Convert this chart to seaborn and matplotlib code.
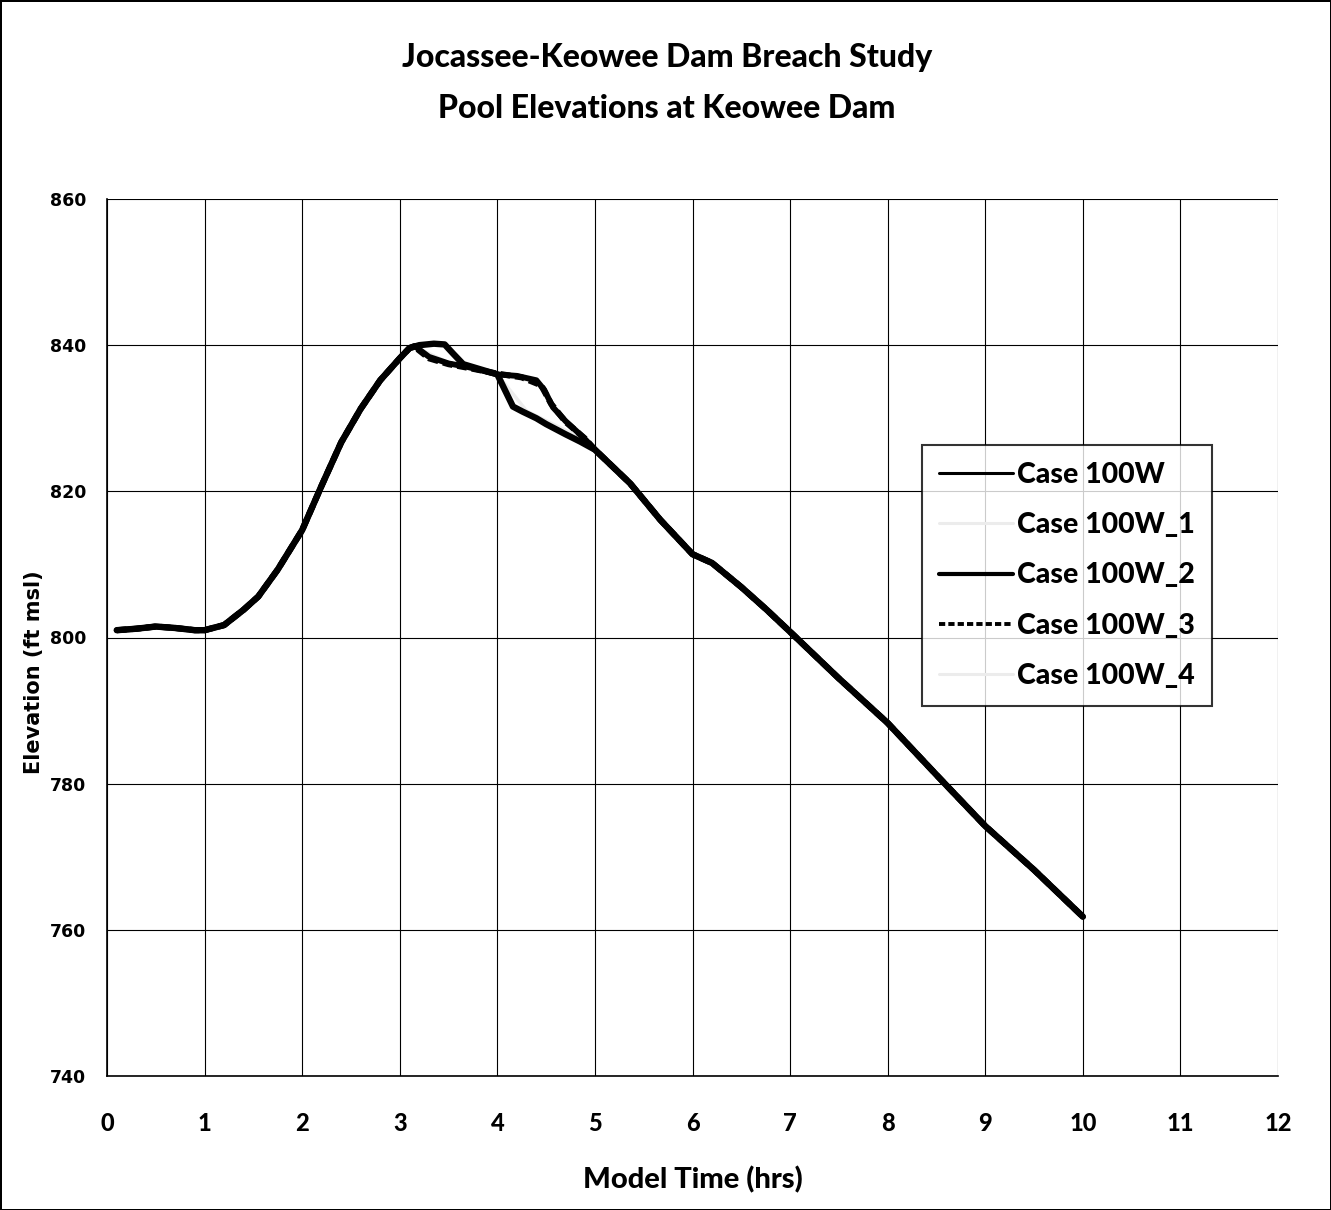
import numpy as np
import pandas as pd
import matplotlib
matplotlib.use("Agg")
import matplotlib.pyplot as plt
import seaborn as sns

# DATA

# rising limb shared by all cases
rise_t = [0.1, 0.3, 0.5, 0.7, 0.9, 1.0, 1.2, 1.4, 1.55, 1.75, 2.0, 2.2, 2.4, 2.6, 2.8, 3.0, 3.1]
rise_e = [801.0, 801.2, 801.5, 801.3, 801.0, 801.0, 801.7, 803.8, 805.6, 809.3, 814.7,
          820.8, 826.7, 831.3, 835.2, 838.2, 839.6]

# falling limb shared by all cases
fall_t = [5.0, 5.36, 5.67, 6.0, 6.2, 6.5, 6.76, 7.03, 7.5, 8.0, 8.5, 9.0, 9.5, 10.0]
fall_e = [825.7, 821.1, 816.1, 811.4, 810.2, 806.9, 803.8, 800.4, 794.4, 788.3,
          781.2, 774.2, 768.2, 761.8]

# peak section of each case
c100_t = [3.15, 3.3, 3.5, 3.7, 4.0, 4.2, 4.4, 4.48, 4.57, 4.7, 4.88]
c100_e = [839.9, 838.4, 837.5, 837.0, 836.0, 835.8, 835.2, 833.9, 831.5, 829.6, 827.4]

c1_t = [3.15, 3.5, 4.0, 4.3, 4.6, 4.9]
c1_e = [839.8, 837.6, 836.0, 831.0, 829.0, 827.0]

c2_t = [3.2, 3.35, 3.46, 3.55, 3.65, 3.8, 4.0, 4.08, 4.16, 4.26, 4.4, 4.5, 4.7, 4.85]
c2_e = [840.0, 840.2, 840.1, 838.8, 837.4, 836.8, 836.0, 833.8, 831.6, 830.9,
        830.0, 829.2, 827.8, 826.8]

c3_t = [3.15, 3.3, 3.5, 3.7, 4.0, 4.25, 4.45, 4.55, 4.7, 4.9]
c3_e = [839.8, 838.2, 837.4, 836.9, 836.1, 835.6, 834.5, 832.0, 829.5, 827.2]

c4_t = [3.15, 3.5, 4.0, 4.4, 4.6, 4.9]
c4_e = [839.7, 837.5, 836.0, 835.0, 831.0, 827.2]

case_names = ["Case 100W", "Case 100W_1", "Case 100W_2", "Case 100W_3", "Case 100W_4"]
peak_t = [c100_t, c1_t, c2_t, c3_t, c4_t]
peak_e = [c100_e, c1_e, c2_e, c3_e, c4_e]

x_ticks = list(range(0, 13))
y_ticks = [740, 760, 780, 800, 820, 840, 860]

# STYLE

sns.set_style("white")
plt.rcParams.update({"text.color": "black", "axes.labelcolor": "black",
                     "xtick.color": "black", "ytick.color": "black"})
narrow = ["Lato", "DejaVu Sans"]

colors = ["black", "#ececec", "black", "black", "#ececec"]
widths = [4.2, 2.5, 4.6, 4.4, 2.5]
dashes = ["-", "-", "-", (0, (1.6, 0.8)), "-"]
zorders = [4, 2, 3, 5, 2]
legend_widths = [2.2, 2.2, 3.0, 2.8, 2.2]

# BUILD TABLE
rows = []
for name, pt, pe in zip(case_names, peak_t, peak_e):
    t = rise_t + pt + fall_t
    e = rise_e + pe + fall_e
    rows.append(pd.DataFrame({"time": t, "elev": e, "case": name}))
df = pd.concat(rows, ignore_index=True)

# PLOT
fig = plt.figure(figsize=(13.31, 12.10), dpi=100)
fig.patch.set_edgecolor("black")
fig.patch.set_linewidth(2)
ax = fig.add_axes([107 / 1331, 1 - 1076 / 1210, (1278 - 107) / 1331, (1076 - 199) / 1210])

for i, name in enumerate(case_names):
    sub = df[df["case"] == name]
    sns.lineplot(data=sub, x="time", y="elev", ax=ax, color=colors[i], lw=widths[i],
                 linestyle=dashes[i], label=name, zorder=zorders[i], sort=False)

ax.set_xlim(0, 12)
ax.set_ylim(740, 860)
ax.set_xticks(x_ticks)
ax.set_yticks(y_ticks)
ax.grid(True, color="black", lw=0.8)
for s in ["top", "right"]:
    ax.spines[s].set_visible(False)
for s in ["left", "bottom"]:
    ax.spines[s].set_color("black")
    ax.spines[s].set_linewidth(1.2)

ax.tick_params(axis="x", length=0, pad=26)
ax.tick_params(axis="y", length=0, pad=15)
for lab in ax.get_xticklabels():
    lab.set_fontfamily(narrow)
    lab.set_fontweight("black")
    lab.set_fontsize(17)
for lab in ax.get_yticklabels():
    lab.set_fontfamily("DejaVu Sans")
    lab.set_fontweight("bold")
    lab.set_fontsize(12.5)

ax.set_xlabel("Model Time (hrs)", fontsize=21, fontweight="black", family=narrow)
ax.xaxis.set_label_coords(0.5, -0.103)
ax.set_ylabel("Elevation (ft msl)", fontsize=15, fontweight="bold", family="DejaVu Sans")
ax.yaxis.set_label_coords(-0.054, 0.46)

fig.text(0.501, 1 - 57 / 1210, "Jocassee-Keowee Dam Breach Study", ha="center", va="center",
         fontsize=23, fontweight="black", family=narrow)
fig.text(0.501, 1 - 108 / 1210, "Pool Elevations at Keowee Dam", ha="center", va="center",
         fontsize=23, fontweight="black", family=narrow)

leg = ax.legend(loc="upper left", bbox_to_anchor=(922 / 1331, 1 - 445 / 1210),
                bbox_transform=fig.transFigure, frameon=True, fancybox=False,
                prop={"family": narrow, "weight": "black", "size": 20.5},
                handlelength=2.6, handletextpad=0.15, labelspacing=0.85,
                borderpad=0.6, borderaxespad=0)
leg.get_frame().set_edgecolor("black")
leg.get_frame().set_linewidth(1.5)
leg.set_zorder(10)
for h, w in zip(leg.get_lines(), legend_widths):
    h.set_linewidth(w)

fig.savefig("out.png", dpi=100, edgecolor=fig.get_edgecolor())
